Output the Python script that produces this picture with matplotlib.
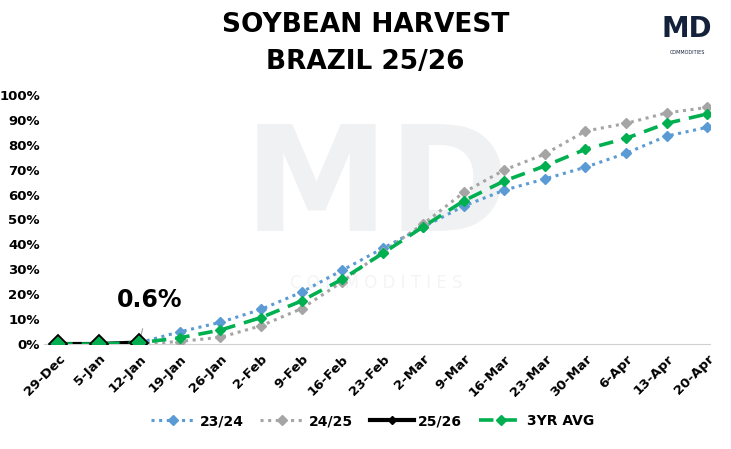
import matplotlib.pyplot as plt
from matplotlib.ticker import FuncFormatter

weeks = ["29-Dec", "5-Jan", "12-Jan", "19-Jan", "26-Jan", "2-Feb", "9-Feb", "16-Feb",
         "23-Feb", "2-Mar", "9-Mar", "16-Mar", "23-Mar", "30-Mar", "6-Apr", "13-Apr", "20-Apr"]

harvest_2324 = [None, None, 0.5, 4.9, 8.7, 13.9, 20.8, 29.6, 38.4, 47.0, 55.4, 61.8, 66.3, 71.0, 76.6, 83.5, 87.0]
harvest_2425 = [None, None, 0.0, 1.0, 2.7, 7.3, 14.2, 25.0, 37.0, 48.2, 60.9, 69.9, 76.3, 85.5, 88.6, 92.8, 95.0]
harvest_2526 = [0.0, 0.0, 0.6]
avg_3yr = [0.0, 0.0, 0.5, 2.5, 5.6, 10.6, 17.3, 26.0, 36.4, 47.1, 57.5, 65.5, 71.5, 78.2, 82.6, 88.6, 92.4]

BLUE = "#5B9BD5"
GRAY = "#A5A5A5"
GREEN = "#00B050"

fig = plt.figure(figsize=(7.31, 4.49), dpi=100)
ax = fig.add_axes([44 / 731, 1 - 344 / 449, 666 / 731, 249 / 449])

# faint watermark behind the lines
ax.text(0.515, 0.575, "MD", transform=fig.transFigure, fontsize=105, fontweight="bold",
        color="#F0F1F3", ha="center", va="center", zorder=0)
ax.text(0.515, 0.37, "C O M M O D I T I E S", transform=fig.transFigure, fontsize=12,
        color="#F3F4F5", ha="center", va="center", zorder=0)

x = list(range(len(weeks)))


def pts(vals):
    xs = [i for i, v in zip(x, vals) if v is not None]
    ys = [v for v in vals if v is not None]
    return xs, ys


xs, ys = pts(harvest_2324)
ax.plot(xs, ys, color=BLUE, ls=(0, (1, 1.5)), lw=2.2, marker="D", ms=5.5, label="23/24", zorder=3)
xs, ys = pts(harvest_2425)
ax.plot(xs, ys, color=GRAY, ls=(0, (1, 1.5)), lw=2.2, marker="D", ms=5.5, label="24/25", zorder=3)
ax.plot(x[:len(harvest_2526)], harvest_2526, color="black", lw=3, marker="D", ms=4,
        label="25/26", zorder=4)
ax.plot(x, avg_3yr, color=GREEN, ls=(0, (4, 2.5)), lw=2.6, marker="D", ms=5,
        label="3YR AVG", zorder=5)
ax.plot(x[:len(harvest_2526)], harvest_2526, ls="none", marker="D", ms=9,
        mfc=GREEN, mec="black", mew=1.3, zorder=6)

ax.annotate(f"{harvest_2526[-1]}%", xy=(2, harvest_2526[-1]), xytext=(2.25, 17.5),
            fontsize=17, fontweight="bold", ha="center", va="center",
            arrowprops=dict(arrowstyle="-", color="#A0A0A0", lw=0.8, shrinkA=10, shrinkB=3))

ax.set_xlim(-0.35, 16.07)
ax.set_ylim(0, 100)
ax.set_yticks(range(0, 101, 10))
ax.yaxis.set_major_formatter(FuncFormatter(lambda v, p: f"{v:.0f}%"))
ax.set_xticks(x)
ax.set_xticklabels(weeks, rotation=45, ha="right", rotation_mode="anchor")
for lab in ax.get_xticklabels() + ax.get_yticklabels():
    lab.set_fontweight("bold")
    lab.set_fontsize(9.5)
ax.tick_params(axis="y", length=0, pad=3)
ax.tick_params(axis="x", length=0, pad=6)
for s in ["top", "right", "left"]:
    ax.spines[s].set_visible(False)
ax.spines["bottom"].set_color("#D0D0D0")
ax.set_facecolor("none")

fig.text(0.5, 0.945, "SOYBEAN HARVEST", fontsize=19, fontweight="heavy", ha="center", va="center")
fig.text(0.5, 0.862, "BRAZIL 25/26", fontsize=19, fontweight="heavy", ha="center", va="center")

fig.text(0.94, 0.935, "MD", fontsize=20, fontweight="bold", color="#14213A", ha="center", va="center")
fig.text(0.94, 0.882, "COMMODITIES", fontsize=3.5, color="#14213A", ha="center", va="center")

leg = fig.legend(loc="center", bbox_to_anchor=(0.51, 0.062), ncol=4, frameon=False,
                 prop={"weight": "bold", "size": 10}, handlelength=3.2, columnspacing=1.2,
                 handletextpad=0.3)

fig.savefig("out.png", dpi=100)
